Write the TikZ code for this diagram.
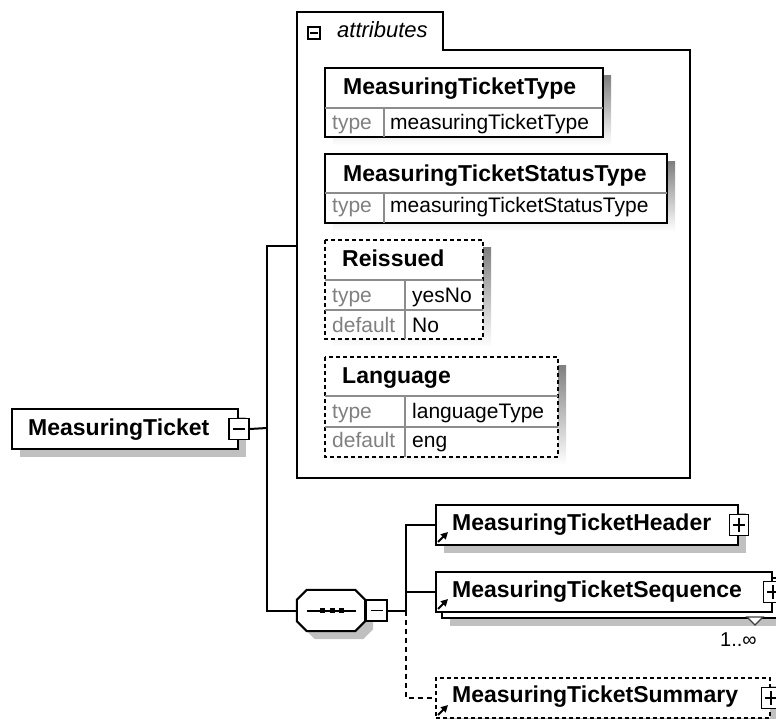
\documentclass[tikz,border=0pt]{standalone}
\usepackage{fontspec}
\setmainfont{Liberation Sans}
\usetikzlibrary{shadows,arrows.meta}
\definecolor{shade}{RGB}{192,192,192}
\definecolor{keygray}{RGB}{128,128,128}
\definecolor{rulegray}{RGB}{140,140,140}
\tikzset{
  conn/.style={line width=2pt},
  dconn/.style={conn, dash pattern=on 5pt off 4pt},
  dashpat/.style={dash pattern=on 4pt off 3pt},
  shad/.style={preaction={fill=shade, transform canvas={shift={(8pt,-8pt)}}}},
  elem/.style={draw, line width=2pt, fill=white, inner sep=0pt, anchor=north west, minimum height=40pt, shad},
  tbl/.style={draw, line width=2pt, fill=white},
  rule/.style={draw=rulegray, line width=1.5pt},
  minusbox/.style={draw, line width=1.6pt, fill=white, inner sep=0pt, minimum width=19pt, minimum height=21pt,
    path picture={\draw[line width=1.6pt] ([xshift=-6pt]path picture bounding box.center) -- ([xshift=6pt]path picture bounding box.center);}},
  plusbox/.style={draw, line width=1.6pt, fill=white, inner sep=0pt, minimum width=19pt, minimum height=21pt,
    path picture={\draw[line width=1.6pt] ([xshift=-6pt]path picture bounding box.center) -- ([xshift=6pt]path picture bounding box.center)
      ([yshift=-7pt]path picture bounding box.center) -- ([yshift=7pt]path picture bounding box.center);}},
  refarrow/.style={line width=2pt, -{Triangle[length=7pt,width=7pt]}},
  bname/.style={font=\fontsize{23}{26}\selectfont\bfseries, inner sep=0pt, anchor=base west},
  val/.style={font=\fontsize{21}{24}\selectfont, inner sep=0pt, anchor=base west},
  key/.style={val, text=keygray}
}
\begin{document}
\begin{tikzpicture}[x=1pt,y=-1pt]
  \useasboundingbox (0,0) rectangle (776,719);
  \clip (0,0) rectangle (776,719);

  \node[elem, minimum width=226pt] (ticket) at (11,408) {};
  \node[bname] (ticketname) at (28,435) {MeasuringTicket};
  \node[minusbox, minimum width=20pt] (tminus) at (ticket.east) {};

  \draw[line width=2pt] (297,478) -- (297,12) -- (443,12) -- (443,50) -- (690,50) -- (690,478) -- cycle;
  \node[draw, line width=1.4pt, minimum size=12pt, inner sep=0pt,
    path picture={\draw[line width=1.4pt] ([xshift=-4pt]path picture bounding box.center) -- ([xshift=4pt]path picture bounding box.center);}] (attrminus) at (314,33) {};
  \node[val, font=\fontsize{22}{24}\selectfont\itshape] (attrname) at (337,38) {attributes};

  \fill[shade] (333,76) rectangle (611,145);
  \draw[tbl] (325,68) rectangle (603,137);
  \draw[rule] (325,108) -- (603,108) (384,108) -- (384,137);
  \node[bname] (mttname) at (343,95) {MeasuringTicketType};
  \node[key] (mttkey) at (332,130) {type};
  \node[val] (mttval) at (390,130) {measuringTicketType};

  \fill[shade] (333,162) rectangle (675,231);
  \draw[tbl] (325,154) rectangle (667,223);
  \draw[rule] (325,193) -- (667,193) (384,193) -- (384,223);
  \node[bname] (mtsname) at (343,182) {MeasuringTicketStatusType};
  \node[key] (mtskey) at (332,213) {type};
  \node[val] (mtsval) at (390,213) {measuringTicketStatusType};

  \fill[shade] (333,248) rectangle (491,347);
  \draw[tbl, dashpat] (325,240) rectangle (483,339);
  \draw[rule] (325,280) -- (483,280) (325,310) -- (483,310) (405,280) -- (405,339);
  \node[bname] (reisname) at (342,267) {Reissued};
  \node[key] (reistype) at (332,302) {type};
  \node[val] (reisval) at (412,302) {yesNo};
  \node[key] (reisdef) at (332,332) {default};
  \node[val] (reisdefval) at (412,332) {No};

  \fill[shade] (333,365) rectangle (566,465);
  \draw[tbl, dashpat] (325,357) rectangle (558,457);
  \draw[rule] (325,396) -- (558,396) (325,427) -- (558,427) (405,396) -- (405,457);
  \node[bname] (langname) at (342,383) {Language};
  \node[key] (langtype) at (332,418) {type};
  \node[val] (langval) at (412,418) {languageType};
  \node[key] (langdef) at (332,447) {default};
  \node[val] (langdefval) at (412,447) {eng};

  \coordinate (attrin) at (297,246);
  \coordinate (fork) at (267,428);
  \coordinate (branch) at (406,610.5);

  \node[minimum width=68pt, minimum height=41pt, inner sep=0pt] (seq) at (331,610.5) {};
  \draw[line width=2pt, fill=white, shad] ([xshift=10pt]seq.north west) -- ([xshift=-10pt]seq.north east)
    -- ([yshift=-10pt]seq.north east) -- ([yshift=10pt]seq.south east) -- ([xshift=-10pt]seq.south east)
    -- ([xshift=10pt]seq.south west) -- ([yshift=10pt]seq.south west) -- ([yshift=-10pt]seq.north west) -- cycle;
  \draw[conn] (307,610.5) -- (356,610.5);
  \foreach \x in {322,332,341}
    \fill (\x-2.5,608) rectangle (\x+2.5,613);
  \node[minusbox, minimum width=21pt, anchor=west] (sminus) at (seq.east) {};

  \node[elem, minimum width=302pt] (header) at (435,504) {};
  \node[bname] (headername) at (452,530) {MeasuringTicketHeader};
  \node[plusbox] (hplus) at (header.east) {};
  \draw[refarrow] ([shift={(3pt,4pt)}]header.south west) -- ++(10,-10);

  \node[elem, minimum width=336pt] (seqback) at (441,577) {};
  \node[draw, line width=2pt, fill=white, anchor=north west, minimum width=336pt, minimum height=40pt, inner sep=0pt] (seqfront) at (435,571) {};
  \node[bname] (seqname) at (452,597) {MeasuringTicketSequence};
  \node[plusbox] (qplus) at (seqfront.east) {};
  \draw[refarrow] ([shift={(3pt,4pt)}]seqfront.south west) -- ++(10,-10);
  \draw[draw=darkgray, line width=1.2pt, fill=white] (747,617) -- (763,617) -- (755,625) -- cycle;
  \node[val, font=\fontsize{20}{22}\selectfont] (mult) at (720,646) {1..∞};

  \node[elem, dashpat, minimum width=334pt] (summary) at (435,677) {};
  \node[bname] (sumname) at (452,702) {MeasuringTicketSummary};
  \node[plusbox] (splus) at (summary.east) {};
  \draw[refarrow] ([shift={(3pt,4pt)}]summary.south west) -- ++(10,-10);

  \draw[conn] (tminus.east) -- (fork);
  \draw[conn] (attrin) -| (fork) |- (seq.west);
  \draw[conn] (sminus.east) -- (branch);
  \draw[conn] (branch) |- (header.west);
  \draw[conn] (branch) |- (seqfront.west);
  \draw[dconn] (branch) |- (summary.west);
\end{tikzpicture}
\end{document}
